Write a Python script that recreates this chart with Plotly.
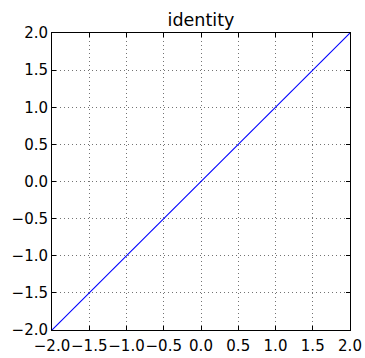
import plotly.graph_objects as go

# identity line endpoints
x_vals = [-2.0, 2.0]
y_vals = [-2.0, 2.0]

tick_vals = [-2.0, -1.5, -1.0, -0.5, 0.0, 0.5, 1.0, 1.5, 2.0]
tick_text = ["\u22122.0", "\u22121.5", "\u22121.0", "\u22120.5", "0.0", "0.5", "1.0", "1.5", "2.0"]

font = dict(family="DejaVu Sans", size=15, color="black")

fig = go.Figure()
fig.add_trace(go.Scatter(x=x_vals, y=y_vals, mode="lines",
                         line=dict(color="#0000ff", width=1.1),
                         showlegend=False, hoverinfo="skip"))

axis_common = dict(
    range=[-2, 2],
    tickvals=tick_vals,
    ticktext=tick_text,
    ticks="inside",
    ticklen=4,
    tickwidth=1,
    tickcolor="black",
    showline=True,
    linecolor="black",
    linewidth=1,
    mirror="ticks",
    showgrid=True,
    gridcolor="rgba(0,0,0,0.55)",
    gridwidth=1,
    griddash="1px,3px",
    zeroline=False,
    tickfont=font,
    tickangle=0,
    automargin=False,
)

fig.update_xaxes(**axis_common, ticklabelstandoff=2)
fig.update_yaxes(**axis_common)

fig.update_layout(
    width=365, height=358,
    margin=dict(l=52, r=15, t=33, b=28),
    paper_bgcolor="white",
    plot_bgcolor="white",
    title=dict(text="identity", x=(52 + 350) / 2 / 365, xanchor="center",
               yref="container", y=1 - 20 / 358, yanchor="middle",
               font=dict(family="DejaVu Sans", size=17.5, color="black")),
)

fig.write_html("out.html")
